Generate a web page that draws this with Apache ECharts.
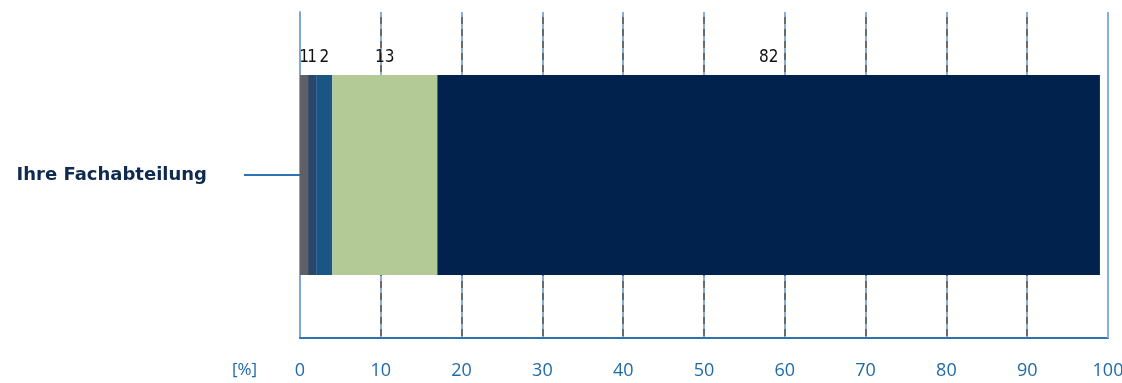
<!DOCTYPE html>
<html>
<head>
<meta charset="utf-8">
<script src="https://cdn.jsdelivr.net/npm/echarts@6/dist/echarts.min.js"></script>
<style>
  html, body { margin: 0; padding: 0; background: #ffffff; }
  #chart { width: 1122px; height: 383px; }
</style>
</head>
<body>
<div id="chart"></div>
<script>
// Share of answers per category, stacked to 100 %
const categories = ['Ihre Fachabteilung'];
const seriesNames = ['s1', 's2', 's3', 's4', 's5'];
const seriesValues = [[1], [1], [2], [13], [82]];
const seriesColors = ['#5f6066', '#2b4668', '#1b5586', '#b3ca97', '#00224c'];
const xTicks = [0, 10, 20, 30, 40, 50, 60, 70, 80, 90, 100];

const chart = echarts.init(document.getElementById('chart'));

const series = seriesNames.map((name, i) => ({
  name: name,
  type: 'bar',
  stack: 'total',
  barWidth: 200,
  data: seriesValues[i],
  itemStyle: { color: seriesColors[i] },
  label: {
    show: true,
    position: 'top',
    distance: 9,
    color: '#111111',
    fontFamily: 'DejaVu Sans Condensed, sans-serif',
    fontSize: 17
  }
}));

chart.setOption({
  animation: false,
  grid: { left: 300, right: 14, top: 12, bottom: 45, outerBoundsMode: 'none', containLabel: false },
  xAxis: [
    {
      type: 'value',
      min: xTicks[0],
      max: xTicks[xTicks.length - 1],
      interval: 10,
      axisLine: { show: true, lineStyle: { color: '#2e74b5', width: 2 } },
      axisTick: { show: false },
      splitLine: { show: true, lineStyle: { color: '#6a6a6a', width: 2 } },
      axisLabel: {
        color: '#1f6aa8',
        fontFamily: 'Open Sans, sans-serif',
        fontSize: 18,
        margin: 24
      }
    },
    {
      type: 'value',
      position: 'bottom',
      min: xTicks[0],
      max: xTicks[xTicks.length - 1],
      interval: 10,
      axisLine: { show: false },
      axisTick: { show: false },
      axisLabel: { show: false },
      splitLine: { show: true, lineStyle: { color: '#86b0d8', width: 2, type: [5, 7] } }
    }
  ],
  yAxis: {
    type: 'category',
    data: categories,
    axisLine: { show: true, lineStyle: { color: '#7fa7cf', width: 2 } },
    axisTick: { show: true, alignWithLabel: true, length: 56, lineStyle: { color: '#2e74b5', width: 2 } },
    axisLabel: {
      color: '#0f2a4f',
      fontFamily: 'DejaVu Sans, sans-serif',
      fontWeight: 'bold',
      fontSize: 18,
      margin: 93
    }
  },
  graphic: [
    {
      type: 'text',
      left: 232,
      top: 362,
      style: {
        text: '[%]',
        fill: '#1f6aa8',
        font: '17px "Open Sans", sans-serif'
      }
    },
    {
      // right-hand border of the plot area
      type: 'line',
      shape: { x1: 1108, y1: 12, x2: 1108, y2: 338 },
      style: { stroke: '#86b0d8', lineWidth: 2 },
      z: 10
    }
  ],
  series: series
});
</script>
</body>
</html>
